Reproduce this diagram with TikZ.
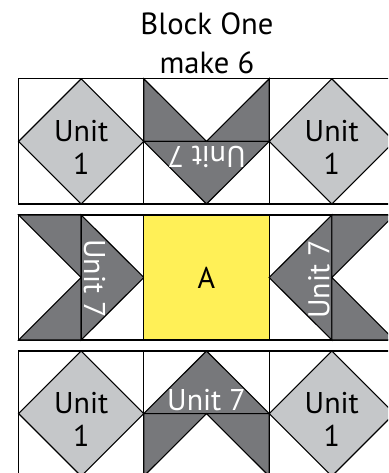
\documentclass[tikz,border=0pt]{standalone}
\usepackage{fontspec}
\setmainfont{PT Sans}
\definecolor{lightg}{HTML}{C5C7C9}
\definecolor{darkg}{HTML}{77787B}
\definecolor{yel}{HTML}{FFF057}
\tikzset{
  px/.style={x=1pt,y=-1pt},
  edge/.style={draw=black,line width=1.1pt,line join=miter},
  lightp/.style={edge,fill=lightg},
  darkp/.style={edge,fill=darkg},
  blk/.style={font=\fontsize{30}{33}\selectfont,text=black,align=center,inner sep=0pt},
  wht/.style={font=\fontsize{30}{33}\selectfont,text=white,inner sep=0pt},
  ttl/.style={font=\fontsize{30.6}{39}\selectfont,text=black,align=center,inner sep=0pt}
}
\newcommand{\diam}[3]{%
  \draw[edge] (#1-62.6,#2-62.6) rectangle (#1+62.6,#2+62.6);
  \draw[lightp] (#1,#2-62.6) -- (#1+62.6,#2) -- (#1,#2+62.6) -- (#1-62.6,#2) -- cycle;
  \node[blk] (#3) at (#1,#2+6) {Unit\\1};
}
\begin{document}
\begin{tikzpicture}[px]
\useasboundingbox (0,0) rectangle (388,473);
\begin{scope}
\clip (0,0) rectangle (388,473);
\node[ttl] (title) at (207,43) {Block One\\make 6};
% row 1
\diam{81.2}{141.4}{ua}
\diam{331.8}{141.4}{ub}
\draw[edge] (143.8,78.8) rectangle (269.2,204);
\draw[darkp] (143.8,78.8) -- (206.5,141.4) -- (269.2,78.8) -- (269.2,141.4) -- (143.8,141.4) -- cycle;
\draw[darkp] (143.8,141.4) -- (206.5,204) -- (269.2,141.4) -- cycle;
\node[wht,rotate=180] (u7a) at (206.5,156.5) {Unit 7};
% row 2
\draw[edge] (18.6,215) rectangle (143.8,340);
\draw[darkp] (18.6,215) -- (81.2,277.5) -- (18.6,340) -- (81.2,340) -- (81.2,215) -- cycle;
\draw[darkp] (81.2,215) -- (143.8,277.5) -- (81.2,340) -- cycle;
\node[wht,rotate=-90] (u7b) at (94.5,278.5) {Unit 7};
\draw[edge,fill=yel] (143.8,215) rectangle (269.2,340);
\node[blk] (a) at (206.5,278) {A};
\draw[edge] (269.2,215) rectangle (394.4,340);
\draw[darkp] (331.8,215) -- (269.2,277.5) -- (331.8,340) -- cycle;
\draw[darkp] (331.8,215) -- (394.4,215) -- (331.8,277.5) -- (394.4,340) -- (331.8,340) -- cycle;
\node[wht,rotate=90] (u7c) at (319,279.5) {Unit 7};
% row 3
\diam{81.2}{413.6}{uc}
\diam{331.8}{413.6}{ud}
\draw[edge] (143.8,351) rectangle (269.2,476.2);
\draw[darkp] (143.8,413.6) -- (206.5,351) -- (269.2,413.6) -- cycle;
\draw[darkp] (143.8,413.6) -- (269.2,413.6) -- (269.2,476.2) -- (206.5,413.6) -- (143.8,476.2) -- cycle;
\node[wht] (u7d) at (206.5,400) {Unit 7};
\end{scope}
\end{tikzpicture}
\end{document}
